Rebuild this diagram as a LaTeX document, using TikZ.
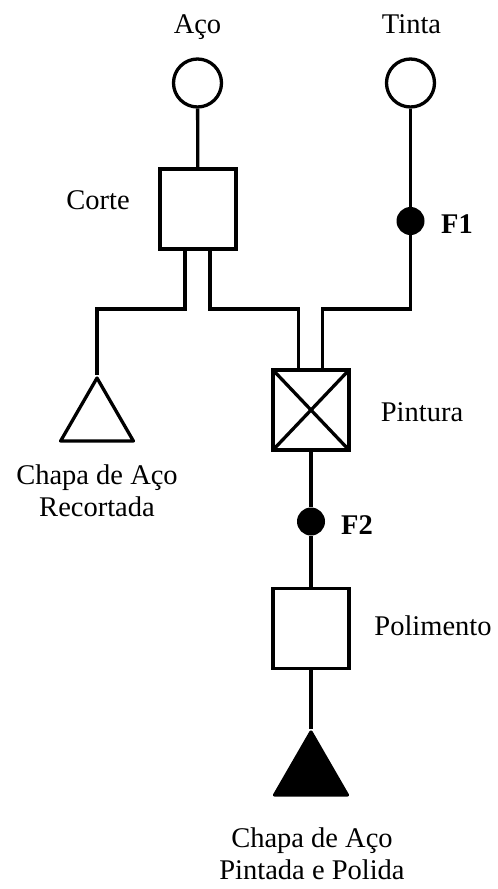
\documentclass[tikz,border=0pt]{standalone}
\usepackage{fontspec}
\setmainfont{Liberation Serif}
\usetikzlibrary{shapes.geometric,calc}
\tikzset{
  ln/.style    = {line width=3.3pt},
  src/.style   = {circle, draw, ln, minimum size=48pt, inner sep=0pt},
  op/.style    = {rectangle, draw, ln, minimum width=76pt, minimum height=80pt, inner sep=0pt},
  opx/.style   = {op, path picture={
                    \draw[ln] (path picture bounding box.north west) -- (path picture bounding box.south east)
                              (path picture bounding box.north east) -- (path picture bounding box.south west);}},
  prod/.style  = {regular polygon, regular polygon sides=3, draw, ln, line join=round,
                  minimum size=84pt, inner sep=0pt},
  ctl/.style   = {circle, fill, minimum size=28pt, inner sep=0pt},
  lbl/.style   = {font=\fontsize{28.5}{32}\selectfont, inner sep=0pt},
  lblb/.style  = {font=\fontsize{28.5}{32}\selectfont\bfseries, inner sep=0pt},
}

\begin{document}
\begin{tikzpicture}[x=1pt, y=-1pt]
  \useasboundingbox (0,0) rectangle (498,889);

  % sources
  \node[src] (aco)   at (197.5,83) {};
  \node[src] (tinta) at (410.5,83) {};
  \node[lbl, anchor=base] (laco)   at (197.5,33) {Aço};
  \node[lbl, anchor=base] (ltinta) at (411.5,33) {Tinta};

  % operations
  \node[op]  (corte) at (198,209)   {};
  \node[opx] (pint)  at (311,410)   {};
  \node[op]  (poli)  at (311,628.5) {};
  \node[lbl, anchor=base] (lcorte) at (98,209)  {Corte};
  \node[lbl, anchor=base] (lpint)  at (422,421) {Pintura};
  \node[lbl, anchor=base] (lpoli)  at (433,635) {Polimento};

  % controls
  \node[ctl] (f1) at (410.5,221) {};
  \node[ctl] (f2) at (311,521.5) {};
  \node[lblb, anchor=base] (lf1) at (457,233) {F1};
  \node[lblb, anchor=base] (lf2) at (357,534) {F2};

  % products
  \node[prod]       (rec) at (97,420)  {};
  \node[prod, fill] (pol) at (311,774) {};
  \node[lbl, anchor=north, align=center] (lrec) at (97,465)  {Chapa de Aço\\Recortada};
  \node[lbl, anchor=north, align=center] (lpol) at (312,828) {Chapa de Aço\\Pintada e Polida};

  % flows
  \coordinate (bus)  at (0,309);
  \coordinate (pinL) at ([xshift=-12.5pt]pint.north);
  \coordinate (pinR) at ([xshift=11.5pt]pint.north);
  \coordinate (coL)  at ([xshift=-13pt]corte.south);
  \coordinate (coR)  at ([xshift=12pt]corte.south);

  \draw[ln] (aco) -- (corte);
  \draw[ln] (tinta) -- (f1);
  \draw[ln] (f1) -- (f1 |- bus) -| (pinR);
  \draw[ln] (coL) |- (rec.corner 1 |- bus) -- (rec.corner 1);
  \draw[ln] (coR) |- (pinL |- bus) -- (pinL);
  \draw[ln] (pint) -- (f2) -- (poli);
  \draw[ln] (poli) -- (pol.corner 1);
\end{tikzpicture}
\end{document}
